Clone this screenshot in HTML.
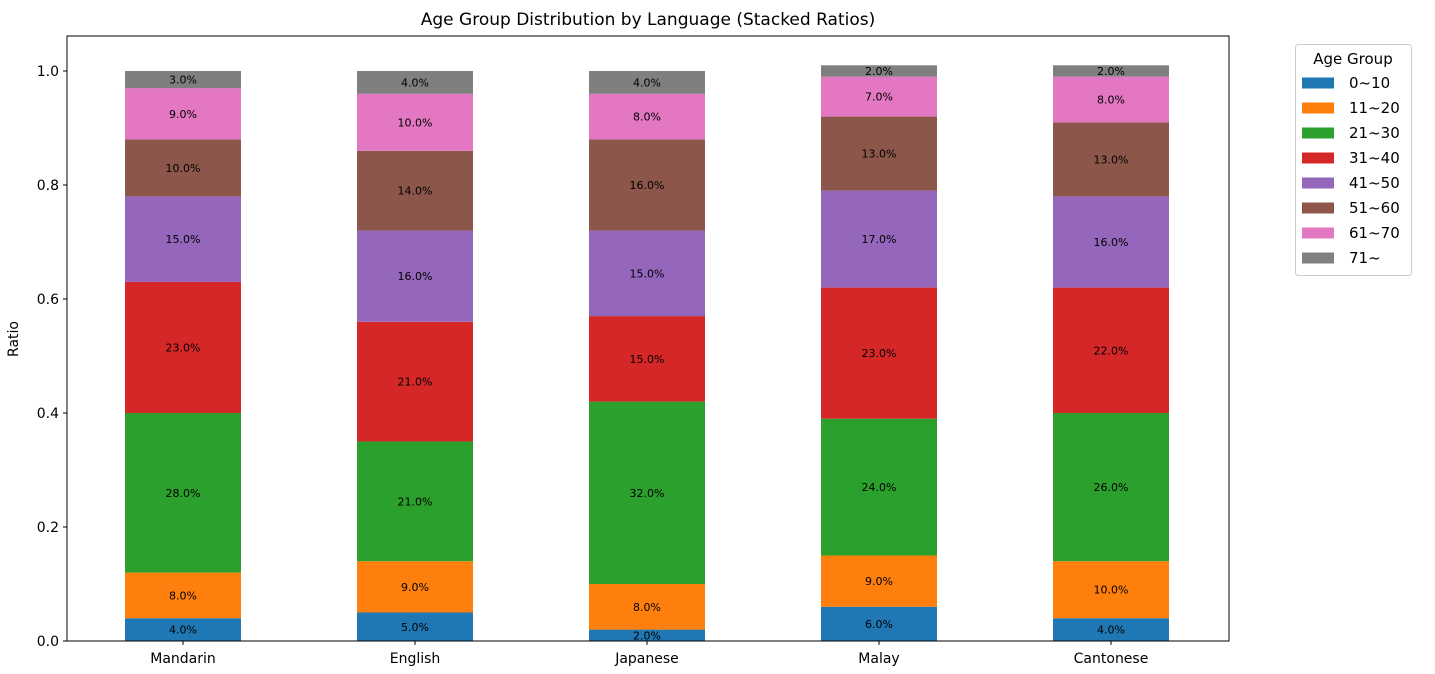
<!DOCTYPE html>
<html><head><meta charset="utf-8"><style>
body{margin:0;background:#fff;font-family:"Liberation Sans","DejaVu Sans",sans-serif;}
svg text{font-family:"DejaVu Sans","Liberation Sans",sans-serif;}
</style></head><body>
<svg id="chart" width="1435" height="669" xmlns="http://www.w3.org/2000/svg"></svg>
<script>
const categories=["Mandarin","English","Japanese","Malay","Cantonese"];
const groups=["0~10","11~20","21~30","31~40","41~50","51~60","61~70","71~"];
const colors=["#1f77b4","#ff7f0e","#2ca02c","#d62728","#9467bd","#8c564b","#e377c2","#7f7f7f"];
const s0=[4,5,2,6,4];
const s1=[8,9,8,9,10];
const s2=[28,21,32,24,26];
const s3=[23,21,15,23,22];
const s4=[15,16,15,17,16];
const s5=[10,14,16,13,13];
const s6=[9,10,8,7,8];
const s7=[3,4,4,2,2];
const series=[s0,s1,s2,s3,s4,s5,s6,s7];
const yTicks=[0,0.2,0.4,0.6,0.8,1.0];
const NS="http://www.w3.org/2000/svg";
const svg=document.getElementById('chart');
const L=67,R=1229,T=36,B=641;
const y=v=>B-v*570;
const x=i=>183+i*232;
const bw=116;
function mk(tag,attrs,parent){const e=document.createElementNS(NS,tag);for(const k in attrs)e.setAttribute(k,attrs[k]);(parent||svg).appendChild(e);return e;}
let t=mk('text',{x:648,y:25,'font-size':17,'text-anchor':'middle',fill:'#000'});t.textContent="Age Group Distribution by Language (Stacked Ratios)";


categories.forEach((c,i)=>{
  let base=0;
  series.forEach((s,g)=>{
    const v=s[i]/100;
    const r=mk('rect',{x:x(i)-bw/2,y:y(base+v),width:bw,height:y(base)-y(base+v),fill:colors[g]});
    
    
    const lb=mk('text',{x:x(i),y:y(base+v/2)+4,'font-size':11,'text-anchor':'middle',fill:'#000'});
    lb.textContent=s[i].toFixed(1)+'%';
    
    
    base+=v;
  });
  mk('line',{x1:x(i),x2:x(i),y1:B,y2:B+4,stroke:'#000'});
  const xl=mk('text',{x:x(i),y:B+22,'font-size':14,'text-anchor':'middle',fill:'#000'});
  xl.textContent=c;
  
  
});
yTicks.forEach(v=>{
  mk('line',{x1:L-4,x2:L,y1:y(v),y2:y(v),stroke:'#000'});
  const yl=mk('text',{x:L-8,y:y(v)+5,'font-size':14,'text-anchor':'end',fill:'#000'});
  yl.textContent=v.toFixed(1);
  
  
});
const ax=mk('rect',{x:L,y:T,width:R-L,height:B-T,fill:'none',stroke:'#000','stroke-width':1});


const yt=mk('text',{x:0,y:0,'font-size':14,'text-anchor':'middle',fill:'#000',transform:'translate(18,339) rotate(-90)'});
yt.textContent="Ratio";


const lg=mk('g',{});


mk('rect',{x:1295.5,y:44.5,width:116,height:231,rx:3,fill:'#fff',stroke:'#ccc'},lg);
const lt=mk('text',{x:1353,y:64,'font-size':15,'text-anchor':'middle',fill:'#000'},lg);lt.textContent="Age Group";
groups.forEach((gname,g)=>{
  const cy=83+g*25;
  const p=mk('rect',{x:1302,y:cy-5.5,width:32,height:11,fill:colors[g]},lg);
  
  
  const tx=mk('text',{x:1349,y:cy+5,'font-size':15,fill:'#000'},lg);tx.textContent=gname;
});
</script>
</body></html>
